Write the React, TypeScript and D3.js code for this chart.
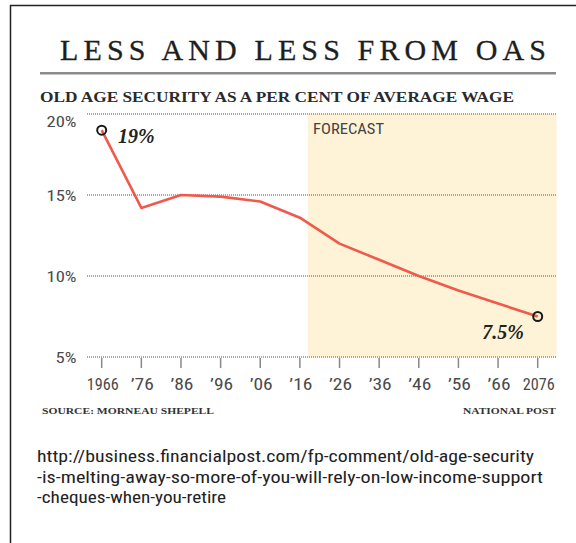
import React from "react";
import * as d3 from "d3";

const years = [1966, 1976, 1986, 1996, 2006, 2016, 2026, 2036, 2046, 2056, 2066, 2076];
const values = [19, 14.2, 15.0, 14.9, 14.6, 13.6, 12.0, 11.0, 10.0, 9.1, 8.3, 7.5];
const tickLabels = ["1966", "’76", "’86", "’96", "’06", "’16", "’26", "’36", "’46", "’56", "’66", "2076"];
const yTicks = [5, 10, 15, 20];
const forecastStart = 2018;
const title = "LESS AND LESS FROM OAS";
const subtitle = "OLD AGE SECURITY AS A PER CENT OF AVERAGE WAGE";
const source = "SOURCE: MORNEAU SHEPELL";
const credit = "NATIONAL POST";
const urlLines = [
  "http://business.financialpost.com/fp-comment/old-age-security",
  "-is-melting-away-so-more-of-you-will-rely-on-low-income-support",
  "-cheques-when-you-retire",
];
const urlWidths = [497, 506, 189];

export default function App() {
  const x = d3.scaleLinear().domain([1966, 2076]).range([101.7, 537.7]);
  const y = d3.scaleLinear().domain([5, 20]).range([357, 114]);
  const gridX0 = 87;
  const gridX1 = 556.5;
  const pts = years.map((yr, i) => [x(yr), y(values[i])] as [number, number]);
  const line = d3.line().curve(d3.curveLinear)(pts) || "";
  const narrow = "'Liberation Sans Narrow', 'Roboto Condensed', Roboto, sans-serif";
  const serif = "'Liberation Serif', 'DejaVu Serif', serif";
  const last = pts[pts.length - 1];
  const first = pts[0];
  return (
    <svg width={576} height={543} style={{ position: "absolute", left: 0, top: 0, background: "#fff" }}>
      <line x1={10} y1={5.5} x2={576} y2={5.5} stroke="#222" strokeWidth={1.5} />
      <line x1={10.5} y1={5} x2={10.5} y2={543} stroke="#222" strokeWidth={1.5} />
      <text x={60} y={60} fontFamily={serif} fontSize={30} fill="#1e1e1e" stroke="#1e1e1e" strokeWidth={0.3} textLength={486} lengthAdjust="spacing">
        {title}
      </text>
      <rect x={40} y={72} width={516} height={2.5} fill="#8c8c8c" />
      <text x={40} y={102} fontFamily={serif} fontWeight="bold" fontSize={14} fill="#2a2a2a" textLength={474} lengthAdjust="spacingAndGlyphs">
        {subtitle}
      </text>
      <rect x={x(forecastStart)} y={y(20)} width={gridX1 - x(forecastStart)} height={y(5) - y(20)} fill="#fef3d6" />
      <text x={313} y={134} fontFamily={narrow} fontSize={15} fill="#444" textLength={71} lengthAdjust="spacingAndGlyphs">
        FORECAST
      </text>
      {yTicks.map((t) => (
        <g key={t}>
          <line x1={gridX0} x2={gridX1} y1={y(t)} y2={y(t)} stroke="#8a8a8a" strokeWidth={1.3} strokeDasharray="1,1" />
          <text x={76.5} y={y(t) + (t === 20 ? 12.5 : 5.5)} textAnchor="end" fontFamily={narrow} fontSize={15} fill="#4a4a4a" textLength={t === 5 ? 21 : 30} lengthAdjust="spacingAndGlyphs">
            {t}%
          </text>
        </g>
      ))}
      {years.map((yr, i) => (
        <g key={yr}>
          <line x1={x(yr)} x2={x(yr)} y1={358} y2={368} stroke="#888" strokeWidth={1.5} />
          <text x={x(yr) + 1} y={390} textAnchor="middle" fontFamily={narrow} fontSize={16} fill="#4a4a4a" textLength={tickLabels[i].length === 4 ? 32 : 23} lengthAdjust="spacingAndGlyphs">
            {tickLabels[i]}
          </text>
        </g>
      ))}
      <path d={line} fill="none" stroke="#f05a4c" strokeWidth={2.6} strokeLinejoin="round" />
      <circle cx={first[0]} cy={first[1]} r={4.5} fill="none" stroke="#1a1a1a" strokeWidth={2} />
      <circle cx={last[0]} cy={last[1]} r={4.5} fill="none" stroke="#1a1a1a" strokeWidth={2} />
      <text x={118} y={143} fontFamily={serif} fontStyle="italic" fontWeight="bold" fontSize={20} fill="#222">
        {values[0]}%
      </text>
      <text x={524} y={339} textAnchor="end" fontFamily={serif} fontStyle="italic" fontWeight="bold" fontSize={20} fill="#222">
        {values[values.length - 1]}%
      </text>
      <text x={42} y={413.5} fontFamily={serif} fontWeight="bold" fontSize={9} fill="#333" textLength={172} lengthAdjust="spacingAndGlyphs">
        {source}
      </text>
      <text x={556} y={413.5} textAnchor="end" fontFamily={serif} fontWeight="bold" fontSize={9} fill="#333" textLength={93} lengthAdjust="spacingAndGlyphs">
        {credit}
      </text>
      {urlLines.map((l, i) => (
        <text key={i} x={37} y={462 + i * 20.5} fontFamily={narrow} fontSize={17} fill="#222" textLength={urlWidths[i]} lengthAdjust="spacingAndGlyphs">
          {l}
        </text>
      ))}
    </svg>
  );
}
